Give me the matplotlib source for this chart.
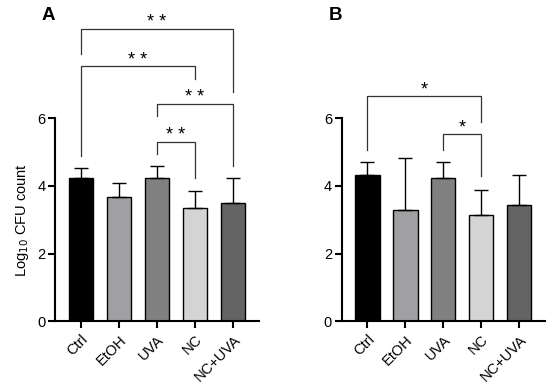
import matplotlib
matplotlib.use("Agg")
import matplotlib.pyplot as plt

plt.rcParams['font.family'] = ['Liberation Sans', 'DejaVu Sans']

categories = ["Ctrl", "EtOH", "UVA", "NC", "NC+UVA"]
colors = ["#000000", "#a0a0a2", "#808080", "#d4d4d4", "#646464"]

means_A = [4.25, 3.68, 4.24, 3.35, 3.49]
err_A = [0.27, 0.41, 0.36, 0.50, 0.75]
means_B = [4.33, 3.29, 4.25, 3.15, 3.45]
err_B = [0.37, 1.53, 0.45, 0.73, 0.88]

# brackets: (i, j, height, left leg bottom, right leg bottom, label)
brackets_A = [
    (0, 4, 8.65, 7.90, 6.79, "* *"),
    (0, 3, 7.54, 4.89, 7.17, "* *"),
    (2, 4, 6.42, 6.07, 4.60, "* *"),
    (2, 3, 5.30, 4.95, 4.24, "* *"),
]
brackets_B = [
    (0, 3, 6.65, 5.07, 5.89, "*"),
    (2, 3, 5.53, 5.07, 4.28, "*"),
]

fig = plt.figure(figsize=(5.5, 3.91), dpi=100)
axA = fig.add_axes([55/550, (391-321.3)/391, 204/550, 203/391])
axB = fig.add_axes([341.7/550, (391-321.3)/391, 203.3/550, 203/391])


def draw(ax, means, errs, brackets):
    x = list(range(len(categories)))
    ax.bar(x, means, width=0.64, color=colors, edgecolor="black", linewidth=1.0, zorder=2)
    ax.errorbar(x, means, yerr=[[0]*len(errs), errs], fmt="none", ecolor="black",
                elinewidth=1.0, capsize=5, capthick=1.0, zorder=3)
    ax.set_xlim(-0.68, 4.68)
    ax.set_ylim(0, 6)
    ax.set_yticks([0, 2, 4, 6])
    ax.set_xticks(x)
    ax.set_xticklabels(categories, rotation=45, ha="right", rotation_mode="anchor")
    for s in ["top", "right"]:
        ax.spines[s].set_visible(False)
    for s in ["left", "bottom"]:
        ax.spines[s].set_linewidth(1.5)
    ax.tick_params(axis="both", width=1.5, length=5, labelsize=10.5, pad=2)
    ax.tick_params(axis="x", pad=3)
    for (i, j, h, lb, rb, lab) in brackets:
        ax.plot([i, i, j, j], [lb, h, h, rb], color="#333333", lw=0.9,
                clip_on=False, zorder=4)
        ax.text((i + j) / 2, h + 0.05, lab, ha="center", va="baseline",
                fontsize=13, clip_on=False)


draw(axA, means_A, err_A, brackets_A)
draw(axB, means_B, err_B, brackets_B)

axA.set_ylabel("Log$_{10}$ CFU count", fontsize=10.5, labelpad=4)

fig.text(48/550, 1 - 15/391, "A", fontsize=13.5, fontweight="bold", ha="center", va="center")
fig.text(336/550, 1 - 15/391, "B", fontsize=13.5, fontweight="bold", ha="center", va="center")

fig.savefig("out.png", dpi=100)
